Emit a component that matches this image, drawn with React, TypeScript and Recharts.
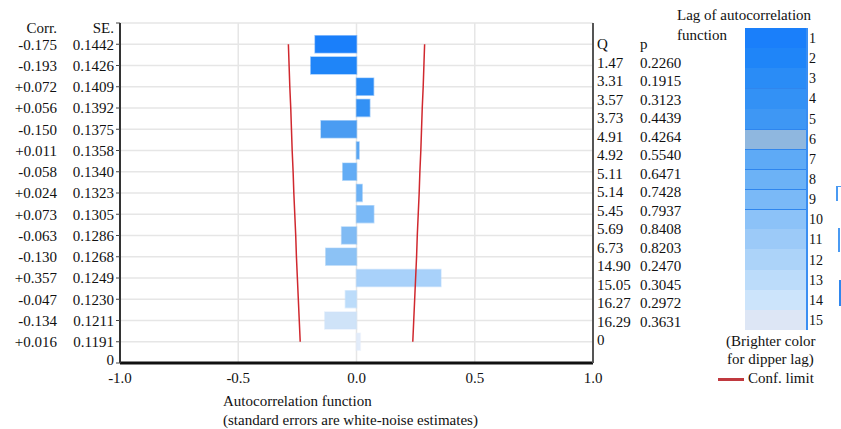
import React from "react";
import { ComposedChart, Bar, Line, XAxis, YAxis, CartesianGrid, Cell } from "recharts";

const lags = [1, 2, 3, 4, 5, 6, 7, 8, 9, 10, 11, 12, 13, 14, 15];
const corrValues = [-0.175, -0.193, 0.072, 0.056, -0.15, 0.011, -0.058, 0.024, 0.073, -0.063, -0.13, 0.357, -0.047, -0.134, 0.016];
const stdErrors = ["0.1442", "0.1426", "0.1409", "0.1392", "0.1375", "0.1358", "0.1340", "0.1323", "0.1305", "0.1286", "0.1268", "0.1249", "0.1230", "0.1211", "0.1191"];
const qValues = ["1.47", "3.31", "3.57", "3.73", "4.91", "4.92", "5.11", "5.14", "5.45", "5.69", "6.73", "14.90", "15.05", "16.27", "16.29"];
const pValues = ["0.2260", "0.1915", "0.3123", "0.4439", "0.4264", "0.5540", "0.6471", "0.7428", "0.7937", "0.8408", "0.8203", "0.2470", "0.3045", "0.2972", "0.3631"];
// conf. limits (about 2 x SE)
const confLimits = [0.288, 0.285, 0.282, 0.278, 0.275, 0.272, 0.268, 0.265, 0.261, 0.257, 0.254, 0.25, 0.246, 0.242, 0.238];

const lagColors = ["#1a7ffa", "#1f85f8", "#2a8cf6", "#3391f5", "#3e97f4", "#8fb7df", "#5eaaf6", "#6cb2f6", "#7ab9f7", "#8cc2f8", "#9ccaf8", "#acd3f9", "#bcdcfa", "#cce4fb", "#dde6f5"];
const barColors = ["#1a7ffa", "#1f85f8", "#2a8cf6", "#3391f5", "#4a9cf2", "#5aa6f3", "#62acf5", "#6cb2f6", "#7ab9f7", "#80bbf4", "#8cc2f5", "#a8d1fa", "#bcdcfa", "#cfe3f8", "#e2ecfa"];

const xTicks = [-1, -0.5, 0, 0.5, 1];
const rowTicks = [0, 1, 2, 3, 4, 5, 6, 7, 8, 9, 10, 11, 12, 13, 14, 15, 16];
const lagTicks = [1, 2, 3, 4, 5, 6, 7, 8, 9, 10, 11, 12, 13, 14, 15];

const FONT = '"Liberation Serif", "Times New Roman", serif';
const FS = 15;

const rows = lags.map((lag, i) => ({
  lag,
  pos: 16 - lag,
  corr: corrValues[i],
  lo: -confLimits[i],
  hi: confLimits[i],
}));

const fmtCorr = (v: number) => (v >= 0 ? "+" + v.toFixed(3) : v.toFixed(3));

function LeftTick({ x, y, payload }: any) {
  const v = payload.value;
  const t = { fontSize: FS, fill: "#111", fontFamily: FONT };
  if (v === 16) {
    return (
      <g>
        <text x={x - 57} y={y + 5} dy="0.35em" textAnchor="end" {...t}>Corr.</text>
        <text x={x} y={y + 5} dy="0.35em" textAnchor="end" {...t}>SE.</text>
      </g>
    );
  }
  if (v === 0) {
    return <text x={x} y={y - 3} dy="0.35em" textAnchor="end" {...t}>0</text>;
  }
  const i = 15 - v;
  return (
    <g>
      <text x={x - 57} y={y} dy="0.35em" textAnchor="end" {...t}>{fmtCorr(corrValues[i])}</text>
      <text x={x} y={y} dy="0.35em" textAnchor="end" {...t}>{stdErrors[i]}</text>
    </g>
  );
}

function RightTick({ x, y, payload }: any) {
  const v = payload.value;
  const t = { fontSize: FS, fill: "#111", fontFamily: FONT };
  let q = "";
  let p = "";
  if (v === 16) {
    q = "Q";
    p = "p";
  } else if (v === 0) {
    q = "0";
  } else {
    q = qValues[15 - v];
    p = pValues[15 - v];
  }
  return (
    <g>
      <text x={x} y={y} dy="0.35em" textAnchor="start" {...t}>{q}</text>
      <text x={x + 43} y={y} dy="0.35em" textAnchor="start" {...t}>{p}</text>
    </g>
  );
}

const abs = (left: number, top: number, extra: any = {}) => ({
  position: "absolute" as const,
  left,
  top,
  fontSize: FS,
  lineHeight: "18px",
  whiteSpace: "nowrap" as const,
  color: "#111",
  ...extra,
});

export default function App() {
  const cellH = 302 / 15;
  return (
    <div style={{ position: "absolute", left: 0, top: 0, width: 841, height: 429, background: "#fff", fontFamily: FONT, overflow: "hidden" }}>
      <ComposedChart
        layout="vertical"
        width={841}
        height={429}
        data={rows}
        margin={{ top: 23, right: 144, bottom: 36, left: 0 }}
      >
        <CartesianGrid stroke="#e6e6e6" strokeWidth={1.5} />
        <XAxis
          type="number"
          domain={[-1, 1]}
          ticks={xTicks}
          tickFormatter={(v: number) => v.toFixed(1)}
          height={30}
          tickLine={false}
          tickMargin={3}
          axisLine={{ stroke: "#111", strokeWidth: 3 }}
          tick={{ fill: "#111", fontSize: FS, fontFamily: FONT }}
        />
        <XAxis
          xAxisId="top"
          orientation="top"
          type="number"
          domain={[-1, 1]}
          ticks={xTicks}
          height={0}
          tickSize={3}
          tick={false}
          axisLine={{ stroke: "#555", strokeWidth: 2 }}
          tickLine={{ stroke: "#555" }}
        />
        <YAxis
          type="number"
          dataKey="pos"
          domain={[0, 16]}
          reversed
          ticks={rowTicks}
          interval={0}
          width={120}
          tickSize={4}
          tickMargin={2}
          axisLine={{ stroke: "#333", strokeWidth: 2 }}
          tickLine={{ stroke: "#444" }}
          tick={<LeftTick />}
        />
        <YAxis
          yAxisId="zq"
          orientation="right"
          type="number"
          dataKey="pos"
          domain={[-1.243, 17.135]}
          reversed
          allowDataOverflow
          ticks={rowTicks}
          interval={0}
          width={100}
          tickLine={false}
          tickSize={0}
          tickMargin={0}
          axisLine={false}
          tick={<RightTick />}
        />
        <YAxis
          yAxisId="aRight"
          orientation="right"
          type="number"
          dataKey="pos"
          domain={[0, 16]}
          reversed
          ticks={lagTicks}
          interval={0}
          width={4}
          tickSize={4}
          tick={false}
          axisLine={{ stroke: "#555", strokeWidth: 2 }}
          tickLine={{ stroke: "#444" }}
        />
        <Bar dataKey="corr" barSize={17} isAnimationActive={false}>
          {rows.map((r, i) => (
            <Cell key={r.lag} fill={barColors[i]} stroke={barColors[i]} strokeOpacity={0.45} strokeWidth={1.5} />
          ))}
        </Bar>
        <Line dataKey="lo" stroke="#d0282e" strokeWidth={1.5} dot={false} isAnimationActive={false} />
        <Line dataKey="hi" yAxisId="aRight" stroke="#d0282e" strokeWidth={1.5} dot={false} isAnimationActive={false} />
      </ComposedChart>

      <div style={abs(223, 392)}>Autocorrelation function</div>
      <div style={abs(223, 411)}>(standard errors are white-noise estimates)</div>

      <div style={abs(677, 6)}>Lag of autocorrelation</div>
      <div style={abs(677, 26)}>function</div>

      <div style={{ position: "absolute", left: 745, top: 28, width: 61, height: 302, borderRight: "2px solid #3a8ef2" }}>
        {lags.map((lag, i) => (
          <div
            key={lag}
            style={{
              position: "absolute",
              left: 0,
              top: i * cellH,
              width: 61,
              height: cellH,
              background: lagColors[i],
              borderTop: [3, 5, 6, 7, 8, 9].includes(i) ? "1.5px solid #2f86ee" : "none",
              boxSizing: "border-box",
            }}
          />
        ))}
      </div>
      {lags.map((lag, i) => (
        <div key={lag} style={abs(809, 28 + i * cellH + cellH / 2 - 8, { fontSize: 14, lineHeight: "18px" })}>
          {lag}
        </div>
      ))}

      <div style={abs(726, 332)}>(Brighter color</div>
      <div style={abs(727, 350)}>for dipper lag)</div>
      <div style={{ position: "absolute", left: 718, top: 378, width: 26, height: 3, background: "#c0393f" }} />
      <div style={abs(748, 369)}>Conf. limit</div>

      <div style={{ position: "absolute", left: 836, top: 186, width: 6, height: 14, borderLeft: "2px solid #4a9af2", borderTop: "1px solid #4a9af2" }} />
      <div style={{ position: "absolute", left: 838, top: 228, width: 4, height: 24, borderLeft: "2px solid #4a9af2" }} />
      <div style={{ position: "absolute", left: 839, top: 280, width: 4, height: 26, borderLeft: "2px solid #2f86ee" }} />
    </div>
  );
}
